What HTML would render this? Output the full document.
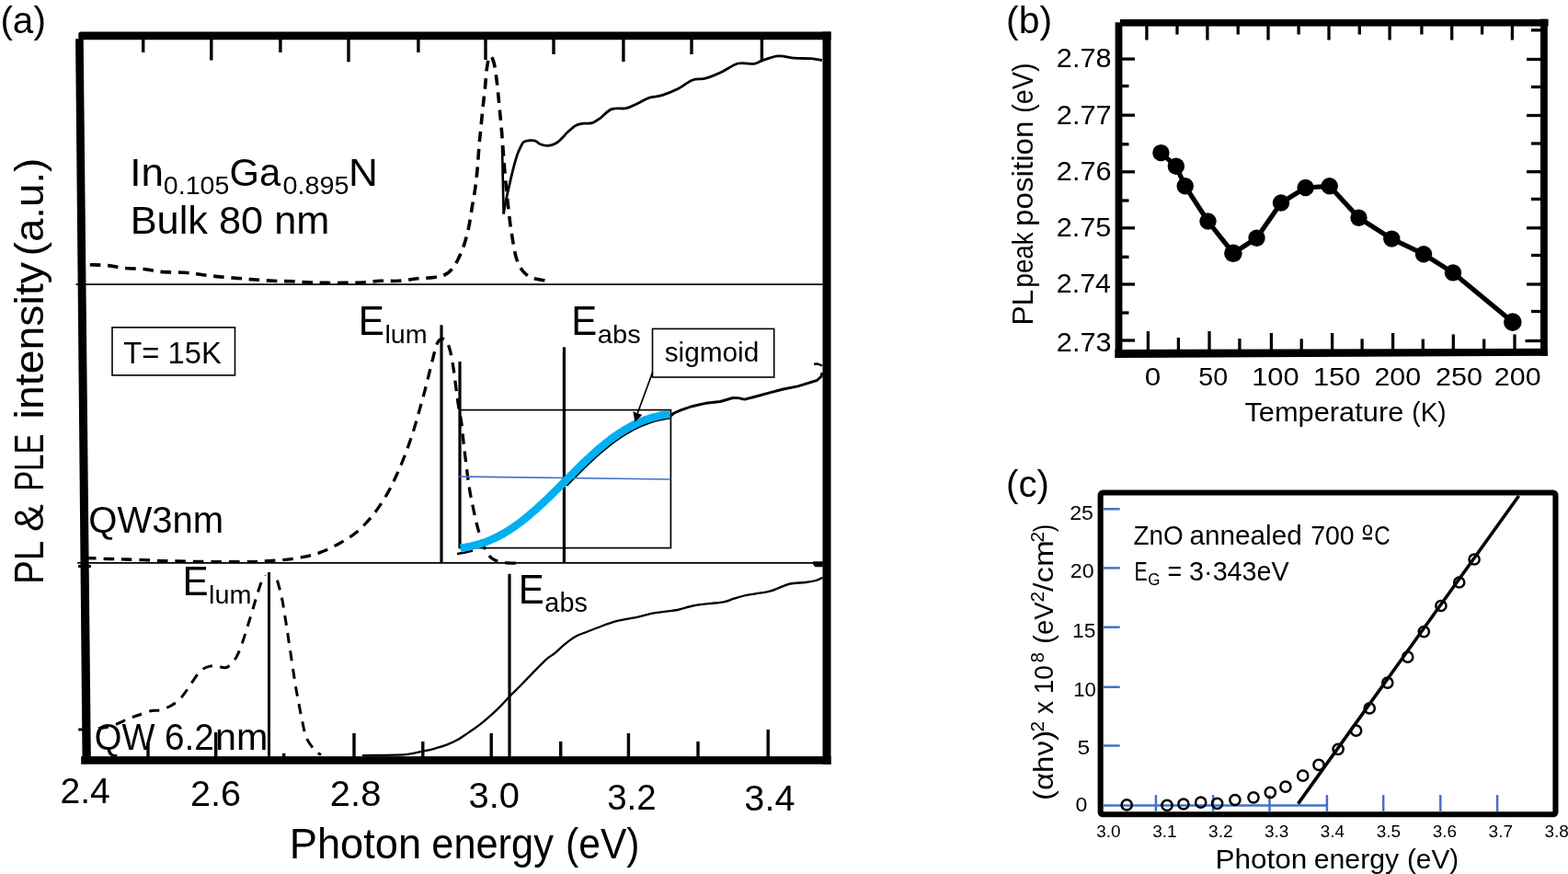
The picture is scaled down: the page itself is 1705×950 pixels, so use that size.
<!DOCTYPE html>
<html><head><meta charset="utf-8"><title>Figure</title>
<style>html,body{margin:0;padding:0;background:#fff;overflow:hidden;}svg{display:block;}
text{font-family:"Liberation Sans", Arial, sans-serif;fill:#000;}</style></head>
<body><svg width="1705" height="950" viewBox="0 0 1705 950">
<rect width="1705" height="950" fill="#fff"/>
<path d="M82.1 42.3 L90.7 42.3 L98.8 822.5 L89.5 822.5 Z" fill="#000"/>
<path d="M85.3 37 Q85.3 34.5 88 34.5 L903.5 34.5 L903.5 43.2 L85.3 43.2 Z" fill="#000"/>
<rect x="88.2" y="822.1" width="815.4" height="8.6" fill="#000"/>
<rect x="894.5" y="34.5" width="9" height="796.2" fill="#000"/>
<line x1="82.6" y1="309.2" x2="894.6" y2="309.2" stroke="#000" stroke-width="1.8"/>
<line x1="84.2" y1="611.9" x2="894.6" y2="611.9" stroke="#000" stroke-width="1.8"/>
<line x1="155.7" y1="42" x2="155.7" y2="57" stroke="#000" stroke-width="3.4"/>
<line x1="229.8" y1="42" x2="229.8" y2="65.5" stroke="#000" stroke-width="3.4"/>
<line x1="304.9" y1="42" x2="304.9" y2="57" stroke="#000" stroke-width="3.4"/>
<line x1="379" y1="42" x2="379" y2="67.3" stroke="#000" stroke-width="3.4"/>
<line x1="454.9" y1="42" x2="454.9" y2="57" stroke="#000" stroke-width="3.4"/>
<line x1="528" y1="42" x2="528" y2="65" stroke="#000" stroke-width="3.4"/>
<line x1="602" y1="42" x2="602" y2="59" stroke="#000" stroke-width="3.4"/>
<line x1="677.9" y1="42" x2="677.9" y2="67" stroke="#000" stroke-width="3.4"/>
<line x1="752" y1="42" x2="752" y2="59" stroke="#000" stroke-width="3.4"/>
<line x1="828.4" y1="42" x2="828.4" y2="66.7" stroke="#000" stroke-width="3.4"/>
<line x1="161" y1="823" x2="161" y2="808" stroke="#000" stroke-width="3.4"/>
<line x1="234.7" y1="823" x2="234.7" y2="796" stroke="#000" stroke-width="3.4"/>
<line x1="308.7" y1="823" x2="308.7" y2="818.8" stroke="#000" stroke-width="3.4"/>
<line x1="385" y1="823" x2="385" y2="797" stroke="#000" stroke-width="3.4"/>
<line x1="459.8" y1="823" x2="459.8" y2="806" stroke="#000" stroke-width="3.4"/>
<line x1="534.2" y1="823" x2="534.2" y2="797" stroke="#000" stroke-width="3.4"/>
<line x1="609.7" y1="823" x2="609.7" y2="806" stroke="#000" stroke-width="3.4"/>
<line x1="683.4" y1="823" x2="683.4" y2="797" stroke="#000" stroke-width="3.4"/>
<line x1="759" y1="823" x2="759" y2="806" stroke="#000" stroke-width="3.4"/>
<line x1="835.2" y1="823" x2="835.2" y2="793" stroke="#000" stroke-width="3.4"/>
<path d="M97.8 287.8 C101.08 287.93 111.22 287.98 117.5 288.6 C123.78 289.22 129 290.85 135.5 291.5 C142 292.15 149.92 291.85 156.5 292.5 C163.08 293.15 167.63 294.77 175 295.4 C182.37 296.03 193.13 295.75 200.7 296.3 C208.27 296.85 213.97 297.93 220.4 298.7 C226.83 299.47 232.87 300.27 239.3 300.9 C245.73 301.53 252.57 301.98 259 302.5 C265.43 303.02 271.62 303.53 277.9 304 C284.18 304.47 290.27 305 296.7 305.3 C303.13 305.6 309.92 305.52 316.5 305.8 C323.08 306.08 329.78 306.73 336.2 307 C342.62 307.27 348.43 307.33 355 307.4 C361.57 307.47 369.02 307.47 375.6 307.4 C382.18 307.33 388.07 307.35 394.5 307 C400.93 306.65 407.63 305.58 414.2 305.3 C420.77 305.02 427.33 305.72 433.9 305.3 C440.47 304.88 447.25 303.43 453.6 302.8 C459.95 302.17 466.93 302.22 472 301.5 C477.07 300.78 480.67 300.08 484 298.5 C487.33 296.92 489.67 294.75 492 292 C494.33 289.25 496 286 498 282 C500 278 502.08 273.67 504 268 C505.92 262.33 507.97 255.03 509.5 248 C511.03 240.97 512.02 232.87 513.2 225.8 C514.38 218.73 515.62 212.62 516.6 205.6 C517.58 198.58 518.37 191.63 519.1 183.7 C519.83 175.77 520.35 165.62 521 158 C521.65 150.38 522.33 144.83 523 138 C523.67 131.17 524.28 123.83 525 117 C525.72 110.17 526.58 104 527.3 97 C528.02 90 528.6 80.58 529.3 75 C530 69.42 530.72 65.75 531.5 63.5 C532.28 61.25 533.08 60.75 534 61.5 C534.92 62.25 536.12 64.75 537 68 C537.88 71.25 538.55 75.67 539.3 81 C540.05 86.33 540.82 93.5 541.5 100 C542.18 106.5 542.77 113.33 543.4 120 C544.03 126.67 544.7 133 545.3 140 C545.9 147 546.28 152.83 547 162 C547.72 171.17 548.48 182.97 549.6 195 C550.72 207.03 552.47 223.73 553.7 234.2 C554.93 244.67 555.75 250.22 557 257.8 C558.25 265.38 559.37 273.67 561.2 279.7 C563.03 285.73 565.2 290.32 568 294 C570.8 297.68 573.8 299.97 578 301.8 C582.2 303.63 589.82 304.35 593.2 305 C596.58 305.65 597.45 305.58 598.3 305.7" fill="none" stroke="#000" stroke-width="3.6" stroke-dasharray="11.6 7.7"/>
<path d="M547.6 232.5 C547.83 231.08 548.4 227.25 549 224 C549.6 220.75 550.47 216.47 551.2 213 C551.93 209.53 552.33 207.82 553.4 203.2 C554.47 198.58 556.1 191.1 557.6 185.3 C559.1 179.5 561 172.62 562.4 168.4 C563.8 164.18 564.78 162.37 566 160 C567.22 157.63 567.85 155.43 569.7 154.2 C571.55 152.97 574.98 152.77 577.1 152.6 C579.22 152.43 580.65 152.5 582.4 153.2 C584.15 153.9 585.33 155.93 587.6 156.8 C589.87 157.67 593.18 158.57 596 158.4 C598.82 158.23 602.03 157.12 604.5 155.8 C606.97 154.48 608.62 152.58 610.8 150.5 C612.98 148.42 615 145.68 617.6 143.3 C620.2 140.92 623.5 137.72 626.4 136.2 C629.3 134.68 632.07 134.63 635 134.2 C637.93 133.77 641.03 134.58 644 133.6 C646.97 132.62 649.28 130.8 652.8 128.3 C656.32 125.8 660.4 120.37 665.1 118.6 C669.8 116.83 676.3 118.72 681 117.7 C685.7 116.68 689.2 114.4 693.3 112.5 C697.4 110.6 701.2 107.77 705.6 106.3 C710 104.83 714.42 105.32 719.7 103.7 C724.98 102.08 731.73 99.38 737.3 96.6 C742.87 93.82 748.12 88.9 753.1 87 C758.08 85.1 761.92 86.67 767.2 85.2 C772.48 83.73 778.93 80.9 784.8 78.2 C790.67 75.5 796.53 70.47 802.4 69 C808.27 67.53 815.6 69.93 820 69.4 C824.4 68.87 824.42 67.22 828.8 65.8 C833.18 64.38 840.45 61.33 846.3 60.9 C852.15 60.47 858.03 62.73 863.9 63.2 C869.77 63.67 876.5 63.32 881.5 63.7 C886.5 64.08 891.83 65.2 893.9 65.5" fill="none" stroke="#000" stroke-width="2.8" stroke-linejoin="round"/>
<path d="M546 158 L547.6 232.5" fill="none" stroke="#000" stroke-width="2.6"/>
<path d="M93 606.5 C97.17 606.67 110.83 607.25 118 607.5 C125.17 607.75 129.67 607.8 136 608 C142.33 608.2 149.33 608.43 156 608.7 C162.67 608.97 169.5 609.38 176 609.6 C182.5 609.82 186 609.83 195 610 C204 610.17 217.27 610.5 230 610.6 C242.73 610.7 261.18 610.77 271.4 610.6 C281.62 610.43 284.83 609.98 291.3 609.6 C297.77 609.22 303.73 609 310.2 608.3 C316.67 607.6 323.62 606.77 330.1 605.4 C336.58 604.03 342.62 602.55 349.1 600.1 C355.58 597.65 362.53 594.33 369 590.7 C375.47 587.07 381.75 583.52 387.9 578.3 C394.05 573.08 400.37 566.35 405.9 559.4 C411.43 552.45 416.83 543.87 421.1 536.6 C425.37 529.33 428.18 523.07 431.5 515.8 C434.82 508.53 438 500.9 441 493 C444 485.1 447 476.22 449.5 468.4 C452 460.58 453.87 453.6 456 446.1 C458.13 438.6 460.3 430.98 462.3 423.4 C464.3 415.82 466.32 407.33 468 400.6 C469.68 393.87 471.15 387.6 472.4 383 C473.65 378.4 474.32 375.42 475.5 373 C476.68 370.58 478 369 479.5 368.5 C481 368 482.93 368.22 484.5 370 C486.07 371.78 487.53 374.53 488.9 379.2 C490.27 383.87 491.55 391.05 492.7 398 C493.85 404.95 494.83 413.73 495.8 420.9 C496.77 428.07 497.5 434.48 498.5 441 C499.5 447.52 500.75 452.27 501.8 460 C502.85 467.73 503.42 475.9 504.8 487.4 C506.18 498.9 508.48 518.23 510.1 529 C511.72 539.77 513.1 545.17 514.5 552 C515.9 558.83 517.17 564.67 518.5 570 C519.83 575.33 521.08 579.67 522.5 584 C523.92 588.33 524.92 592.17 527 596 C529.08 599.83 531.5 604.42 535 607 C538.5 609.58 542.5 610.62 548 611.5 C553.5 612.38 564.67 612.17 568 612.3" fill="none" stroke="#000" stroke-width="3.3" stroke-dasharray="11.5 8"/>
<path d="M884.2 610.2 L894.7 610.2 L894.7 616.3 L886.3 616.3 L884.2 613.5 Z" fill="#000"/>
<rect x="85.1" y="614" width="13.8" height="3" fill="#000"/>
<rect x="85.3" y="791.5" width="7.7" height="3" fill="#000"/>
<rect x="500" y="445.6" width="229.4" height="150" fill="none" stroke="#000" stroke-width="1.7"/>
<line x1="480" y1="353.3" x2="480" y2="612" stroke="#000" stroke-width="3.2"/>
<line x1="500" y1="393" x2="500" y2="596" stroke="#000" stroke-width="3.2"/>
<line x1="613.4" y1="377.3" x2="613.4" y2="612" stroke="#000" stroke-width="3.2"/>
<path d="M497 602 L506 600.5 L514 598.5" fill="none" stroke="#000" stroke-width="2.4"/>
<path d="M616 527.65 L620 523.56 L624 519.49 L628 515.45 L632 511.46 L636 507.54 L640 503.69 L644 499.93 L648 496.27 L652 492.73 L656 489.31 L660 486.01 L664 482.86 L668 479.85 L672 477 L676 474.3 L680 471.77 L684 469.4 L688 467.19 L692 465.15 L696 463.28 L700 461.58 L704 460.04 L708 458.67 L712 457.46 L716 456.41 L720 455.51 L724 454.77 L728 454.17 L728.5 452.5 L733 449 L740.8 445.7 L751.4 442 L767.2 438.3 L783.1 436.5 L796.8 432.5 L803 432.6 L809.5 434.1 L820 431.5 L835.9 427.2 L851.7 423 L867.5 419.8 L878.1 416.7 L888.6 413.3 L892.9 409.3 L894 405" fill="none" stroke="#000" stroke-width="2.9" stroke-linejoin="round"/>
<path d="M885 395.8 L889 395.5 L894 397.5" fill="none" stroke="#000" stroke-width="2.4"/>
<line x1="499" y1="518" x2="729.4" y2="521" stroke="#4472C4" stroke-width="1.6"/>
<path d="M500.5 595.58 L502.5 595.35 L504.5 595.09 L506.5 594.79 L508.5 594.45 L510.5 594.07 L512.5 593.66 L514.5 593.21 L516.5 592.71 L518.5 592.18 L520.5 591.61 L522.5 591 L524.5 590.35 L526.5 589.66 L528.5 588.92 L530.5 588.14 L532.5 587.33 L534.5 586.47 L536.5 585.57 L538.5 584.62 L540.5 583.64 L542.5 582.61 L544.5 581.54 L546.5 580.43 L548.5 579.28 L550.5 578.09 L552.5 576.85 L554.5 575.58 L556.5 574.27 L558.5 572.91 L560.5 571.52 L562.5 570.09 L564.5 568.62 L566.5 567.11 L568.5 565.57 L570.5 563.99 L572.5 562.38 L574.5 560.74 L576.5 559.06 L578.5 557.35 L580.5 555.61 L582.5 553.85 L584.5 552.06 L586.5 550.24 L588.5 548.39 L590.5 546.53 L592.5 544.64 L594.5 542.73 L596.5 540.81 L598.5 538.87 L600.5 536.91 L602.5 534.94 L604.5 532.96 L606.5 530.97 L608.5 528.97 L610.5 526.97 L612.5 524.96 L614.5 522.95 L616.5 520.95 L618.5 518.94 L620.5 516.93 L622.5 514.94 L624.5 512.95 L626.5 510.96 L628.5 508.99 L630.5 507.04 L632.5 505.09 L634.5 503.17 L636.5 501.26 L638.5 499.37 L640.5 497.5 L642.5 495.65 L644.5 493.83 L646.5 492.03 L648.5 490.26 L650.5 488.52 L652.5 486.81 L654.5 485.13 L656.5 483.48 L658.5 481.87 L660.5 480.29 L662.5 478.74 L664.5 477.23 L666.5 475.76 L668.5 474.32 L670.5 472.92 L672.5 471.56 L674.5 470.24 L676.5 468.97 L678.5 467.73 L680.5 466.53 L682.5 465.37 L684.5 464.26 L686.5 463.18 L688.5 462.15 L690.5 461.16 L692.5 460.21 L694.5 459.31 L696.5 458.44 L698.5 457.62 L700.5 456.84 L702.5 456.1 L704.5 455.4 L706.5 454.74 L708.5 454.13 L710.5 453.55 L712.5 453.02 L714.5 452.52 L716.5 452.06 L718.5 451.64 L720.5 451.26 L722.5 450.92 L724.5 450.62 L726.5 450.35 L728.4 450.13" fill="none" stroke="#00B0F0" stroke-width="8.5"/>
<line x1="712.1" y1="397.9" x2="693.3" y2="449" stroke="#000" stroke-width="1.7"/>
<path d="M688.3 447.3 L698.3 451 L690.4 458.7 Z" fill="#000"/>
<rect x="709.5" y="357.4" width="132.2" height="52.6" fill="#fff" stroke="#000" stroke-width="1.6"/>
<path d="M107 791.5 C108.5 791.33 112.5 791.33 116 790.5 C119.5 789.67 124 788.08 128 786.5 C132 784.92 136.33 782.5 140 781 C143.67 779.5 146.2 778.83 150 777.5 C153.8 776.17 158.57 774 162.8 773 C167.03 772 171.53 772.5 175.4 771.5 C179.27 770.5 182.57 769 186 767 C189.43 765 192.67 763 196 759.5 C199.33 756 202.67 750.67 206 746 C209.33 741.33 213 734.92 216 731.5 C219 728.08 221 726.83 224 725.5 C227 724.17 230.33 723.5 234 723.5 C237.67 723.5 242.33 726.75 246 725.5 C249.67 724.25 253.17 720.25 256 716 C258.83 711.75 260.92 705.5 263 700 C265.08 694.5 266.75 688.5 268.5 683 C270.25 677.5 271.83 672.5 273.5 667 C275.17 661.5 276.92 655.17 278.5 650 C280.08 644.83 281.67 639.83 283 636 C284.33 632.17 285.42 629.13 286.5 627 C287.58 624.87 288.5 623.97 289.5 623.2 C290.5 622.43 291.33 622.4 292.5 622.4 C293.67 622.4 295.33 622.6 296.5 623.2 C297.67 623.8 298.67 624.7 299.5 626 C300.33 627.3 300.83 629 301.5 631 C302.17 633 302.83 635.5 303.5 638 C304.17 640.5 304.83 643.17 305.5 646 C306.17 648.83 306.92 651.83 307.5 655 C308.08 658.17 308.47 661.67 309 665 C309.53 668.33 310.15 671.67 310.7 675 C311.25 678.33 311.75 681.33 312.3 685 C312.85 688.67 313.38 692.83 314 697 C314.62 701.17 315.17 704.5 316 710 C316.83 715.5 318.03 723.67 319 730 C319.97 736.33 320.92 742.78 321.8 748 C322.68 753.22 323.2 755.52 324.3 761.3 C325.4 767.08 326.88 775.85 328.4 782.7 C329.92 789.55 331.07 796.93 333.4 802.4 C335.73 807.87 339.8 812.48 342.4 815.5 C345 818.52 347.9 819.67 349 820.5" fill="none" stroke="#000" stroke-width="3.0" stroke-dasharray="11 8.5"/>
<path d="M394 821.2 C396.55 821.15 401.85 821.03 409.3 820.9 C416.75 820.77 431.85 820.78 438.7 820.4 C445.55 820.02 446.5 819.3 450.4 818.6 C454.3 817.9 458.2 817.08 462.1 816.2 C466 815.32 469.88 814.4 473.8 813.3 C477.72 812.2 481.68 811.1 485.6 809.6 C489.52 808.1 493.4 806.47 497.3 804.3 C501.2 802.13 505.08 799.25 509 796.6 C512.92 793.95 516.88 791.38 520.8 788.4 C524.72 785.42 528.6 782.17 532.5 778.7 C536.4 775.23 540.68 771.12 544.2 767.6 C547.72 764.08 549.68 761.62 553.6 757.6 C557.52 753.58 562.6 748.7 567.7 743.5 C572.8 738.3 579.73 730.93 584.2 726.4 C588.67 721.87 591.3 719.05 594.5 716.3 C597.7 713.55 600.2 712.52 603.4 709.9 C606.6 707.28 610.02 703.58 613.7 700.6 C617.38 697.62 621.82 694.15 625.5 692 C629.18 689.85 631.63 689.37 635.8 687.7 C639.97 686.03 645.58 683.85 650.5 682 C655.42 680.15 660.38 678.07 665.3 676.6 C670.22 675.13 675.08 674.23 680 673.2 C684.92 672.17 689.88 671.48 694.8 670.4 C699.72 669.32 704.6 667.67 709.5 666.7 C714.4 665.73 719.67 665.22 724.2 664.6 C728.73 663.98 731.83 664.02 736.7 663 C741.57 661.98 747.83 659.63 753.4 658.5 C758.97 657.37 764.52 656.9 770.1 656.2 C775.68 655.5 782.25 655.22 786.9 654.3 C791.55 653.38 794.3 651.83 798 650.7 C801.7 649.57 804.45 648.5 809.1 647.5 C813.75 646.5 821.25 645.5 825.9 644.7 C830.55 643.9 833.3 643.72 837 642.7 C840.7 641.68 844.38 639.97 848.1 638.6 C851.82 637.23 854.65 635.43 859.3 634.5 C863.95 633.57 871.37 633.58 876 633 C880.63 632.42 884.03 631.87 887.1 631 C890.17 630.13 893.18 628.33 894.4 627.8" fill="none" stroke="#000" stroke-width="2.3" stroke-linejoin="round"/>
<rect x="285" y="616" width="16" height="9" fill="#fff"/>
<line x1="292.5" y1="621.9" x2="292.5" y2="823" stroke="#000" stroke-width="3"/>
<line x1="554" y1="623.8" x2="554" y2="823" stroke="#000" stroke-width="3.2"/>
<text x="0.39" y="35.9" font-size="41" textLength="49.53" lengthAdjust="spacingAndGlyphs">(a)</text>
<text transform="translate(46.8 632) rotate(-90)"><tspan x="-2.98" y="0" font-size="45" textLength="56.36" lengthAdjust="spacingAndGlyphs">PL </tspan><tspan x="53.91" y="0" font-size="45" textLength="42.63" lengthAdjust="spacingAndGlyphs">&amp; </tspan><tspan x="98.2" y="0" font-size="45" textLength="71.24" lengthAdjust="spacingAndGlyphs">PLE </tspan><tspan x="176.59" y="0" font-size="45" textLength="183.41" lengthAdjust="spacingAndGlyphs">intensity </tspan><tspan x="353.67" y="0" font-size="45" textLength="106.67" lengthAdjust="spacingAndGlyphs">(a.u.)</tspan></text>
<text x="65.43" y="872.6" font-size="39.5" textLength="54.42" lengthAdjust="spacingAndGlyphs">2.4</text>
<text x="206.91" y="875.8" font-size="39.5" textLength="55.03" lengthAdjust="spacingAndGlyphs">2.6</text>
<text x="358.89" y="875.8" font-size="39.5" textLength="55.44" lengthAdjust="spacingAndGlyphs">2.8</text>
<text x="509.58" y="877.8" font-size="39.5" textLength="55.48" lengthAdjust="spacingAndGlyphs">3.0</text>
<text x="660.13" y="879.6" font-size="39.5" textLength="53.5" lengthAdjust="spacingAndGlyphs">3.2</text>
<text x="809.39" y="881.4" font-size="39.5" textLength="55.07" lengthAdjust="spacingAndGlyphs">3.4</text>
<text><tspan x="314.79" y="933" font-size="45.5" textLength="155.91" lengthAdjust="spacingAndGlyphs">Photon </tspan><tspan x="469.36" y="933" font-size="45.5" textLength="144.46" lengthAdjust="spacingAndGlyphs">energy </tspan><tspan x="615.06" y="933" font-size="45.5" textLength="80.48" lengthAdjust="spacingAndGlyphs">(eV)</tspan></text>
<text><tspan x="141.24" y="201.7" font-size="43.3" textLength="36.72" lengthAdjust="spacingAndGlyphs">In</tspan><tspan x="177.88" y="210.7" font-size="27.5" textLength="71.52" lengthAdjust="spacingAndGlyphs">0.105</tspan><tspan x="249.5" y="201.7" font-size="43.3" textLength="55.7" lengthAdjust="spacingAndGlyphs">Ga</tspan><tspan x="307.48" y="210.7" font-size="27.5" textLength="72.03" lengthAdjust="spacingAndGlyphs">0.895</tspan><tspan x="378.97" y="201.7" font-size="43.3" textLength="31.93" lengthAdjust="spacingAndGlyphs">N</tspan></text>
<text x="141.75" y="253.9" font-size="43" textLength="216.5" lengthAdjust="spacingAndGlyphs">Bulk 80 nm</text>
<rect x="122" y="355.9" width="133.5" height="52" fill="none" stroke="#000" stroke-width="1.6"/>
<text x="134.36" y="394.7" font-size="33.7" textLength="106.5" lengthAdjust="spacingAndGlyphs">T= 15K</text>
<text x="96.3" y="578.6" font-size="40" textLength="146.84" lengthAdjust="spacingAndGlyphs">QW3nm</text>
<text><tspan x="102.79" y="814.8" font-size="40" textLength="76.23" lengthAdjust="spacingAndGlyphs">QW </tspan><tspan x="178.94" y="814.8" font-size="40" textLength="53.7" lengthAdjust="spacingAndGlyphs">6.2</tspan><tspan x="233.96" y="814.8" font-size="40" textLength="57.36" lengthAdjust="spacingAndGlyphs">nm</tspan></text>
<text><tspan x="389.63" y="364" font-size="44.8" textLength="28.18" lengthAdjust="spacingAndGlyphs">E</tspan><tspan x="418.47" y="372.9" font-size="28.2" textLength="46.22" lengthAdjust="spacingAndGlyphs">lum</tspan></text>
<text><tspan x="621.16" y="363.9" font-size="44.8" textLength="27.94" lengthAdjust="spacingAndGlyphs">E</tspan><tspan x="649.86" y="373" font-size="28.3" textLength="46.89" lengthAdjust="spacingAndGlyphs">abs</tspan></text>
<text><tspan x="198.43" y="647.1" font-size="45" textLength="28.18" lengthAdjust="spacingAndGlyphs">E</tspan><tspan x="227.06" y="655.9" font-size="27.8" textLength="46.44" lengthAdjust="spacingAndGlyphs">lum</tspan></text>
<text><tspan x="563.65" y="655.9" font-size="44.8" textLength="28.06" lengthAdjust="spacingAndGlyphs">E</tspan><tspan x="592.38" y="665.2" font-size="28.7" textLength="46.47" lengthAdjust="spacingAndGlyphs">abs</tspan></text>
<text x="722.67" y="392.5" font-size="29.8" textLength="102.65" lengthAdjust="spacingAndGlyphs">sigmoid</text>
<rect x="1217.9" y="21" width="465.7" height="7.6" fill="#000"/>
<rect x="1212.6" y="24.3" width="7.8" height="364.7" fill="#000"/>
<path d="M1212.4 380 L1682.8 378.8 L1682.8 386.7 L1212.4 389 Z" fill="#000"/>
<rect x="1675" y="20.6" width="7.8" height="366.1" fill="#000"/>
<line x1="1246.9" y1="28" x2="1246.9" y2="43.5" stroke="#000" stroke-width="3.3"/>
<line x1="1280" y1="28" x2="1280" y2="37.5" stroke="#000" stroke-width="3.3"/>
<line x1="1312.9" y1="28" x2="1312.9" y2="43.5" stroke="#000" stroke-width="3.3"/>
<line x1="1346.2" y1="28" x2="1346.2" y2="37.5" stroke="#000" stroke-width="3.3"/>
<line x1="1379" y1="28" x2="1379" y2="43.5" stroke="#000" stroke-width="3.3"/>
<line x1="1412.1" y1="28" x2="1412.1" y2="37.5" stroke="#000" stroke-width="3.3"/>
<line x1="1445" y1="28" x2="1445" y2="43.5" stroke="#000" stroke-width="3.3"/>
<line x1="1478.3" y1="28" x2="1478.3" y2="37.5" stroke="#000" stroke-width="3.3"/>
<line x1="1511.1" y1="28" x2="1511.1" y2="43.5" stroke="#000" stroke-width="3.3"/>
<line x1="1545.9" y1="28" x2="1545.9" y2="37.5" stroke="#000" stroke-width="3.3"/>
<line x1="1578.7" y1="28" x2="1578.7" y2="43.5" stroke="#000" stroke-width="3.3"/>
<line x1="1611.6" y1="28" x2="1611.6" y2="37.5" stroke="#000" stroke-width="3.3"/>
<line x1="1644.4" y1="28" x2="1644.4" y2="43.5" stroke="#000" stroke-width="3.3"/>
<line x1="1248.4" y1="381" x2="1248.4" y2="360" stroke="#000" stroke-width="3.3"/>
<line x1="1281.4" y1="381" x2="1281.4" y2="367" stroke="#000" stroke-width="3.3"/>
<line x1="1315" y1="381" x2="1315" y2="360" stroke="#000" stroke-width="3.3"/>
<line x1="1347.9" y1="381" x2="1347.9" y2="368" stroke="#000" stroke-width="3.3"/>
<line x1="1382.4" y1="381" x2="1382.4" y2="362" stroke="#000" stroke-width="3.3"/>
<line x1="1415.2" y1="381" x2="1415.2" y2="368.3" stroke="#000" stroke-width="3.3"/>
<line x1="1448.6" y1="381" x2="1448.6" y2="362" stroke="#000" stroke-width="3.3"/>
<line x1="1481.1" y1="381" x2="1481.1" y2="368.3" stroke="#000" stroke-width="3.3"/>
<line x1="1514.6" y1="381" x2="1514.6" y2="362" stroke="#000" stroke-width="3.3"/>
<line x1="1547.3" y1="381" x2="1547.3" y2="368.5" stroke="#000" stroke-width="3.3"/>
<line x1="1580.3" y1="381" x2="1580.3" y2="363.4" stroke="#000" stroke-width="3.3"/>
<line x1="1613.7" y1="381" x2="1613.7" y2="368.5" stroke="#000" stroke-width="3.3"/>
<line x1="1647" y1="381" x2="1647" y2="363.4" stroke="#000" stroke-width="3.3"/>
<line x1="1220" y1="64.1" x2="1234" y2="64.1" stroke="#000" stroke-width="3.3"/>
<line x1="1220" y1="93.5" x2="1227.5" y2="93.5" stroke="#000" stroke-width="3.3"/>
<line x1="1220" y1="125.2" x2="1234" y2="125.2" stroke="#000" stroke-width="3.3"/>
<line x1="1220" y1="156.8" x2="1227.5" y2="156.8" stroke="#000" stroke-width="3.3"/>
<line x1="1220" y1="186.8" x2="1234" y2="186.8" stroke="#000" stroke-width="3.3"/>
<line x1="1220" y1="218" x2="1227.5" y2="218" stroke="#000" stroke-width="3.3"/>
<line x1="1220" y1="247.8" x2="1234" y2="247.8" stroke="#000" stroke-width="3.3"/>
<line x1="1220" y1="279.3" x2="1227.5" y2="279.3" stroke="#000" stroke-width="3.3"/>
<line x1="1220" y1="309" x2="1234" y2="309" stroke="#000" stroke-width="3.3"/>
<line x1="1220" y1="340" x2="1227.5" y2="340" stroke="#000" stroke-width="3.3"/>
<line x1="1220" y1="370" x2="1234" y2="370" stroke="#000" stroke-width="3.3"/>
<line x1="1675" y1="32.8" x2="1665" y2="32.8" stroke="#000" stroke-width="3.3"/>
<line x1="1675" y1="64.5" x2="1660" y2="64.5" stroke="#000" stroke-width="3.3"/>
<line x1="1675" y1="94.5" x2="1665" y2="94.5" stroke="#000" stroke-width="3.3"/>
<line x1="1675" y1="125.5" x2="1660" y2="125.5" stroke="#000" stroke-width="3.3"/>
<line x1="1675" y1="156" x2="1665" y2="156" stroke="#000" stroke-width="3.3"/>
<line x1="1675" y1="186.7" x2="1660" y2="186.7" stroke="#000" stroke-width="3.3"/>
<line x1="1675" y1="216.4" x2="1665" y2="216.4" stroke="#000" stroke-width="3.3"/>
<line x1="1675" y1="247.8" x2="1660" y2="247.8" stroke="#000" stroke-width="3.3"/>
<line x1="1675" y1="277.5" x2="1665" y2="277.5" stroke="#000" stroke-width="3.3"/>
<line x1="1675" y1="309" x2="1660" y2="309" stroke="#000" stroke-width="3.3"/>
<line x1="1675" y1="338.5" x2="1665" y2="338.5" stroke="#000" stroke-width="3.3"/>
<line x1="1675" y1="370.5" x2="1658.5" y2="370.5" stroke="#000" stroke-width="3.3"/>
<path d="M1262.4 166.1 L1278.9 180.8 L1288.7 202.3 L1313.5 240.5 L1340.9 275.2 L1366.5 258.7 L1393 220.5 L1419.6 204 L1445.7 202.3 L1477.5 236.8 L1513.3 259.6 L1548 276.2 L1580 296.4 L1644.8 350.1" fill="none" stroke="#000" stroke-width="5.2" stroke-linejoin="round"/>
<circle cx="1262.4" cy="166.1" r="9.2" fill="#000"/>
<circle cx="1278.9" cy="180.8" r="9.2" fill="#000"/>
<circle cx="1288.7" cy="202.3" r="9.2" fill="#000"/>
<circle cx="1313.5" cy="240.5" r="9.2" fill="#000"/>
<circle cx="1340.9" cy="275.2" r="9.8" fill="#000"/>
<circle cx="1366.5" cy="258.7" r="9.2" fill="#000"/>
<circle cx="1393" cy="220.5" r="9.2" fill="#000"/>
<circle cx="1419.6" cy="204" r="9.2" fill="#000"/>
<circle cx="1445.7" cy="202.3" r="9.2" fill="#000"/>
<circle cx="1477.5" cy="236.8" r="9.2" fill="#000"/>
<circle cx="1513.3" cy="259.6" r="9.2" fill="#000"/>
<circle cx="1548" cy="276.2" r="9.2" fill="#000"/>
<circle cx="1580" cy="296.4" r="9.2" fill="#000"/>
<circle cx="1644.8" cy="350.1" r="9.8" fill="#000"/>
<text x="1094.06" y="35.5" font-size="40.3" textLength="49.97" lengthAdjust="spacingAndGlyphs">(b)</text>
<text x="1148.86" y="72.5" font-size="29" textLength="59.57" lengthAdjust="spacingAndGlyphs">2.78</text>
<text x="1148.86" y="134.8" font-size="29" textLength="59.79" lengthAdjust="spacingAndGlyphs">2.77</text>
<text x="1148.86" y="196" font-size="29" textLength="59.59" lengthAdjust="spacingAndGlyphs">2.76</text>
<text x="1148.86" y="256.6" font-size="29" textLength="59.52" lengthAdjust="spacingAndGlyphs">2.75</text>
<text x="1148.87" y="318.4" font-size="29" textLength="59.12" lengthAdjust="spacingAndGlyphs">2.74</text>
<text x="1148.86" y="381.6" font-size="29" textLength="59.59" lengthAdjust="spacingAndGlyphs">2.73</text>
<text x="1244.77" y="419.1" font-size="27.3" textLength="17.45" lengthAdjust="spacingAndGlyphs">0</text>
<text x="1303.25" y="419.1" font-size="27.3" textLength="31.87" lengthAdjust="spacingAndGlyphs">50</text>
<text x="1361.15" y="419.1" font-size="27.3" textLength="51.45" lengthAdjust="spacingAndGlyphs">100</text>
<text x="1427.95" y="419.1" font-size="27.3" textLength="51.45" lengthAdjust="spacingAndGlyphs">150</text>
<text x="1494.47" y="419.1" font-size="27.3" textLength="50.72" lengthAdjust="spacingAndGlyphs">200</text>
<text x="1560.96" y="419.1" font-size="27.3" textLength="51.03" lengthAdjust="spacingAndGlyphs">250</text>
<text x="1624.87" y="419.1" font-size="27.3" textLength="50.72" lengthAdjust="spacingAndGlyphs">200</text>
<text><tspan x="1353.42" y="458.1" font-size="30.1" textLength="181.42" lengthAdjust="spacingAndGlyphs">Temperature </tspan><tspan x="1535.37" y="458.1" font-size="30.1" textLength="37.27" lengthAdjust="spacingAndGlyphs">(K)</tspan></text>
<text transform="translate(1123.4 351) rotate(-90)"><tspan x="-2.54" y="0" font-size="30.6" textLength="46.47" lengthAdjust="spacingAndGlyphs">PL </tspan><tspan x="38.62" y="0" font-size="30.6" textLength="67.62" lengthAdjust="spacingAndGlyphs">peak </tspan><tspan x="104.96" y="0" font-size="30.6" textLength="123.84" lengthAdjust="spacingAndGlyphs">position </tspan><tspan x="228.32" y="0" font-size="30.6" textLength="54.16" lengthAdjust="spacingAndGlyphs">(eV)</tspan></text>
<rect x="1196.65" y="535.55" width="494.8" height="349.75" rx="2.5" fill="none" stroke="#000" stroke-width="6.1"/>
<line x1="1199.6" y1="553.3" x2="1217.7" y2="553.3" stroke="#4472C4" stroke-width="2.5"/>
<line x1="1199.6" y1="617.4" x2="1217.7" y2="617.4" stroke="#4472C4" stroke-width="2.5"/>
<line x1="1199.6" y1="681.7" x2="1217.7" y2="681.7" stroke="#4472C4" stroke-width="2.5"/>
<line x1="1199.6" y1="746.8" x2="1217.7" y2="746.8" stroke="#4472C4" stroke-width="2.5"/>
<line x1="1199.6" y1="810.5" x2="1217.7" y2="810.5" stroke="#4472C4" stroke-width="2.5"/>
<line x1="1199.6" y1="875.4" x2="1443.2" y2="875.4" stroke="#4472C4" stroke-width="2.5"/>
<line x1="1256.9" y1="864.1" x2="1256.9" y2="882.5" stroke="#4472C4" stroke-width="2.5"/>
<line x1="1319.1" y1="864.1" x2="1319.1" y2="882.5" stroke="#4472C4" stroke-width="2.5"/>
<line x1="1380.5" y1="864.1" x2="1380.5" y2="882.5" stroke="#4472C4" stroke-width="2.5"/>
<line x1="1442.9" y1="864.1" x2="1442.9" y2="882.5" stroke="#4472C4" stroke-width="2.5"/>
<line x1="1504.2" y1="864.1" x2="1504.2" y2="882.5" stroke="#4472C4" stroke-width="2.5"/>
<line x1="1566.3" y1="864.1" x2="1566.3" y2="882.5" stroke="#4472C4" stroke-width="2.5"/>
<line x1="1628.1" y1="864.1" x2="1628.1" y2="882.5" stroke="#4472C4" stroke-width="2.5"/>
<line x1="1411.5" y1="873.6" x2="1651.5" y2="539" stroke="#000" stroke-width="3.6"/>
<circle cx="1225.2" cy="874.9" r="5.6" fill="none" stroke="#000" stroke-width="2.5"/>
<circle cx="1269" cy="875.4" r="5.6" fill="none" stroke="#000" stroke-width="2.5"/>
<circle cx="1286.9" cy="874" r="5.6" fill="none" stroke="#000" stroke-width="2.5"/>
<circle cx="1305.7" cy="872.2" r="5.6" fill="none" stroke="#000" stroke-width="2.5"/>
<circle cx="1323.6" cy="873.4" r="5.6" fill="none" stroke="#000" stroke-width="2.5"/>
<circle cx="1342.9" cy="869.5" r="5.6" fill="none" stroke="#000" stroke-width="2.5"/>
<circle cx="1363" cy="866.8" r="5.6" fill="none" stroke="#000" stroke-width="2.5"/>
<circle cx="1381.3" cy="861.4" r="5.6" fill="none" stroke="#000" stroke-width="2.5"/>
<circle cx="1397.9" cy="855.2" r="5.6" fill="none" stroke="#000" stroke-width="2.5"/>
<circle cx="1416.7" cy="843.2" r="5.6" fill="none" stroke="#000" stroke-width="2.5"/>
<circle cx="1434" cy="831.4" r="5.6" fill="none" stroke="#000" stroke-width="2.5"/>
<circle cx="1455.1" cy="814.3" r="5.6" fill="none" stroke="#000" stroke-width="2.5"/>
<circle cx="1474.6" cy="794.2" r="5.6" fill="none" stroke="#000" stroke-width="2.5"/>
<circle cx="1489.2" cy="769.9" r="5.6" fill="none" stroke="#000" stroke-width="2.5"/>
<circle cx="1508.8" cy="742.1" r="5.6" fill="none" stroke="#000" stroke-width="2.5"/>
<circle cx="1530.7" cy="714.2" r="5.6" fill="none" stroke="#000" stroke-width="2.5"/>
<circle cx="1548.3" cy="686.6" r="5.6" fill="none" stroke="#000" stroke-width="2.5"/>
<circle cx="1566.9" cy="658.5" r="5.6" fill="none" stroke="#000" stroke-width="2.5"/>
<circle cx="1586.7" cy="633" r="5.6" fill="none" stroke="#000" stroke-width="2.5"/>
<circle cx="1603.1" cy="608" r="5.6" fill="none" stroke="#000" stroke-width="2.5"/>
<text x="1094.12" y="540" font-size="40.3" textLength="46.66" lengthAdjust="spacingAndGlyphs">(c)</text>
<text x="1163.24" y="564.5" font-size="22.5" textLength="25.74" lengthAdjust="spacingAndGlyphs">25</text>
<text x="1163.83" y="628.1" font-size="22.5" textLength="25.77" lengthAdjust="spacingAndGlyphs">20</text>
<text x="1165.96" y="693.1" font-size="22.5" textLength="25.4" lengthAdjust="spacingAndGlyphs">15</text>
<text x="1167.32" y="756.7" font-size="22.5" textLength="24.54" lengthAdjust="spacingAndGlyphs">10</text>
<text x="1171.62" y="820.3" font-size="22.5" textLength="13.61" lengthAdjust="spacingAndGlyphs">5</text>
<text x="1169.4" y="881.5" font-size="22.5" textLength="12.8" lengthAdjust="spacingAndGlyphs">0</text>
<text x="1192.28" y="909.7" font-size="18" textLength="26.26" lengthAdjust="spacingAndGlyphs">3.0</text>
<text x="1253.18" y="909.7" font-size="18" textLength="26.45" lengthAdjust="spacingAndGlyphs">3.1</text>
<text x="1314.07" y="909.7" font-size="18" textLength="26.48" lengthAdjust="spacingAndGlyphs">3.2</text>
<text x="1374.98" y="909.7" font-size="18" textLength="26.36" lengthAdjust="spacingAndGlyphs">3.3</text>
<text x="1435.89" y="909.7" font-size="18" textLength="26.06" lengthAdjust="spacingAndGlyphs">3.4</text>
<text x="1496.78" y="909.7" font-size="18" textLength="26.32" lengthAdjust="spacingAndGlyphs">3.5</text>
<text x="1557.68" y="909.7" font-size="18" textLength="26.36" lengthAdjust="spacingAndGlyphs">3.6</text>
<text x="1618.57" y="909.7" font-size="18" textLength="26.48" lengthAdjust="spacingAndGlyphs">3.7</text>
<text x="1679.48" y="909.7" font-size="18" textLength="26.35" lengthAdjust="spacingAndGlyphs">3.8</text>
<text><tspan x="1232.62" y="592.1" font-size="30.4" textLength="61.85" lengthAdjust="spacingAndGlyphs">ZnO </tspan><tspan x="1293.44" y="592.1" font-size="30.4" textLength="130.53" lengthAdjust="spacingAndGlyphs">annealed </tspan><tspan x="1425.14" y="592.1" font-size="30.4" textLength="55.5" lengthAdjust="spacingAndGlyphs">700 </tspan><tspan x="1481.4" y="592.1" font-size="30.4" textLength="10.96" lengthAdjust="spacingAndGlyphs">º</tspan><tspan x="1494.27" y="592.1" font-size="30.4" textLength="17.45" lengthAdjust="spacingAndGlyphs">C</tspan></text>
<rect x="1481.8" y="584" width="10.2" height="2.6" fill="#000"/>
<text><tspan x="1233.56" y="630.7" font-size="30" textLength="14.15" lengthAdjust="spacingAndGlyphs">E</tspan><tspan x="1248.34" y="636.4" font-size="19" textLength="13.23" lengthAdjust="spacingAndGlyphs">G</tspan><tspan x="1262.16" y="630.7" font-size="30" textLength="30.49" lengthAdjust="spacingAndGlyphs"> = </tspan><tspan x="1293.11" y="630.7" font-size="30" textLength="108.52" lengthAdjust="spacingAndGlyphs">3·343eV</tspan></text>
<text><tspan x="1321.41" y="943.7" font-size="30" textLength="108.69" lengthAdjust="spacingAndGlyphs">Photon </tspan><tspan x="1428.72" y="943.7" font-size="30" textLength="100.84" lengthAdjust="spacingAndGlyphs">energy </tspan><tspan x="1529.96" y="943.7" font-size="30" textLength="56.19" lengthAdjust="spacingAndGlyphs">(eV)</tspan></text>
<text transform="translate(1144.6 868) rotate(-90)"><tspan x="-2.05" y="0" font-size="30.3" textLength="76.1" lengthAdjust="spacingAndGlyphs">(αhν)</tspan><tspan x="72.45" y="-10" font-size="20.3" textLength="11.6" lengthAdjust="spacingAndGlyphs">2</tspan><tspan x="84.32" y="0" font-size="30.3" textLength="60.57" lengthAdjust="spacingAndGlyphs"> x 10</tspan><tspan x="147.73" y="-9.6" font-size="20.3" textLength="11.14" lengthAdjust="spacingAndGlyphs">8</tspan><tspan x="160.08" y="0" font-size="30.3" textLength="53.55" lengthAdjust="spacingAndGlyphs"> (eV</tspan><tspan x="213.45" y="-10.1" font-size="20.3" textLength="11.6" lengthAdjust="spacingAndGlyphs">2</tspan><tspan x="225" y="0" font-size="30.3" textLength="55.78" lengthAdjust="spacingAndGlyphs">/cm</tspan><tspan x="278.45" y="-10.1" font-size="20.3" textLength="11.6" lengthAdjust="spacingAndGlyphs">2</tspan><tspan x="289.85" y="0" font-size="30.3" textLength="8.29" lengthAdjust="spacingAndGlyphs">)</tspan></text>
</svg></body></html>
